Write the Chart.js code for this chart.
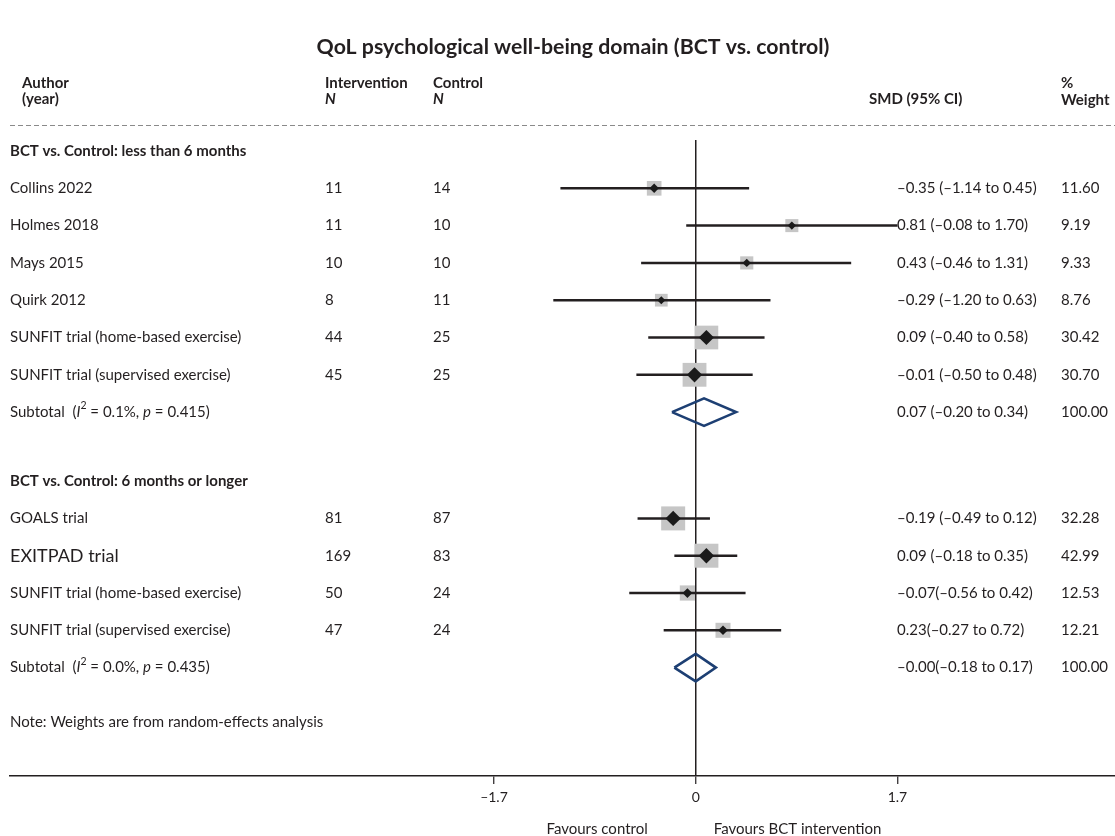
<!DOCTYPE html>
<html>
<head>
<meta charset="utf-8">
<script src="https://cdn.jsdelivr.net/npm/chart.js@4.4.1/dist/chart.umd.min.js"></script>
<style>
  html, body { margin: 0; padding: 0; background: #fff; overflow: hidden; }
  #wrap { width: 1115px; height: 836px; position: relative; }
  #forest { display: block; }
</style>
</head>
<body>
<div id="wrap"><canvas id="forest"></canvas></div>
<script>
// ---- study data ----
const sectionTitles = ['BCT vs. Control: less than 6 months', 'BCT vs. Control: 6 months or longer'];
const studyGroup = [0, 0, 0, 0, 0, 0, 1, 1, 1, 1];
const studyNames = ['Collins 2022', 'Holmes 2018', 'Mays 2015', 'Quirk 2012',
  'SUNFIT trial (home-based exercise)', 'SUNFIT trial (supervised exercise)',
  'GOALS trial', 'EXITPAD trial',
  'SUNFIT trial (home-based exercise)', 'SUNFIT trial (supervised exercise)'];
const nIntervention = [11, 11, 10, 8, 44, 45, 81, 169, 50, 47];
const nControl = [14, 10, 10, 11, 25, 25, 87, 83, 24, 24];
const smd = [-0.35, 0.81, 0.43, -0.29, 0.09, -0.01, -0.19, 0.09, -0.07, 0.23];
const ciLow = [-1.14, -0.08, -0.46, -1.20, -0.40, -0.50, -0.49, -0.18, -0.56, -0.27];
const ciHigh = [0.45, 1.70, 1.31, 0.63, 0.58, 0.48, 0.12, 0.35, 0.42, 0.72];
const weights = [11.60, 9.19, 9.33, 8.76, 30.42, 30.70, 32.28, 42.99, 12.53, 12.21];
const smdLabels = ['\u20130.35 (\u20131.14 to 0.45)', '0.81 (\u20130.08 to 1.70)', '0.43 (\u20130.46 to 1.31)',
  '\u20130.29 (\u20131.20 to 0.63)', '0.09 (\u20130.40 to 0.58)', '\u20130.01 (\u20130.50 to 0.48)',
  '\u20130.19 (\u20130.49 to 0.12)', '0.09 (\u20130.18 to 0.35)', '\u20130.07(\u20130.56 to 0.42)',
  '0.23(\u20130.27 to 0.72)'];
const weightLabels = ['11.60', '9.19', '9.33', '8.76', '30.42', '30.70', '32.28', '42.99', '12.53', '12.21'];

// ---- pooled (subtotal) data ----
const subSmd = [0.07, -0.00];
const subLow = [-0.20, -0.18];
const subHigh = [0.34, 0.17];
const subI2 = ['0.1%', '0.0%'];
const subP = ['0.415', '0.435'];
const subLabels = ['0.07 (\u20130.20 to 0.34)', '\u20130.00(\u20130.18 to 0.17)'];
const subWeightLabels = ['100.00', '100.00'];

const xTicks = [-1.7, 0, 1.7];

// ---- row positions (one unit per row, extra gap between sections) ----
const sectionRow = [];
const studyRow = [];
const subRow = [];
let pos = 0;
sectionTitles.forEach((t, g) => {
  sectionRow.push(pos); pos += 1;
  studyGroup.forEach((sg, i) => { if (sg === g) { studyRow[i] = pos; pos += 1; } });
  subRow.push(pos); pos += 1.85;
});
const noteRow = subRow[subRow.length - 1] + 1.45;

const FONT = 'Lato, "Open Sans", sans-serif';
const INK = '#231f20';

// marker sizing from study weight
const squareSide = w => Math.min(24, 4.3 * Math.sqrt(w));

const ciDatasets = smd.map((v, i) => ({
  type: 'scatter',
  data: [{ x: ciLow[i], y: studyRow[i] }, { x: ciHigh[i], y: studyRow[i] }],
  showLine: true, borderColor: INK, borderWidth: 2.5, pointRadius: 0, order: 2
}));

const diamondHalf = 0.37;
const subDatasets = subSmd.map((v, g) => ({
  type: 'scatter',
  data: [
    { x: subLow[g], y: subRow[g] }, { x: v, y: subRow[g] - diamondHalf },
    { x: subHigh[g], y: subRow[g] }, { x: v, y: subRow[g] + diamondHalf },
    { x: subLow[g], y: subRow[g] }
  ],
  showLine: true, borderColor: '#1d3f73', borderWidth: 2.6, pointRadius: 0,
  borderJoinStyle: 'miter', fill: false, order: 1
}));

const squares = {
  type: 'scatter',
  data: smd.map((v, i) => ({ x: v, y: studyRow[i] })),
  pointStyle: 'rect',
  pointRadius: weights.map(w => squareSide(w) / Math.SQRT2),
  backgroundColor: '#c6c6c6', borderWidth: 0, order: 3
};
const dots = {
  type: 'scatter',
  data: smd.map((v, i) => ({ x: v, y: studyRow[i] })),
  pointStyle: 'rectRot',
  pointRadius: weights.map(w => squareSide(w) * 0.32),
  backgroundColor: '#1a1a1a', borderWidth: 0, order: 1
};

function drawSubtotalText(ctx, x, y, i2, p) {
  const parts = [
    ['Subtotal  (', 'normal', 15, 0],
    ['I', 'italic', 15, 0],
    ['2', 'normal', 10.5, -6],
    [' = ' + i2 + ', ', 'normal', 15, 0],
    ['p', 'italic', 15, 0],
    [' = ' + p + ')', 'normal', 15, 0]
  ];
  let cx = x;
  parts.forEach(([t, st, sz, dy]) => {
    ctx.font = st + ' ' + sz + 'px ' + FONT;
    ctx.fillText(t, cx, y + dy);
    cx += ctx.measureText(t).width;
  });
}

const tablePlugin = {
  id: 'forestTable',
  afterDraw(chart) {
    const ctx = chart.ctx;
    const ys = chart.scales.y;
    const xs = chart.scales.x;
    const yOf = r => ys.getPixelForValue(r);
    ctx.save();
    ctx.fillStyle = INK;
    ctx.textBaseline = 'middle';

    // title
    ctx.textAlign = 'center';
    ctx.font = 'bold 21.3px ' + FONT;
    ctx.fillText('QoL psychological well-being domain (BCT vs. control)', 573, 47);

    // column headers
    ctx.textAlign = 'left';
    ctx.font = 'bold 15px ' + FONT;
    ctx.fillText('Author', 22, 83);
    ctx.fillText('(year)', 22, 99);
    ctx.fillText('Intervention', 325, 83);
    ctx.fillText('Control', 433, 83);
    ctx.fillText('SMD (95% CI)', 869, 99);
    ctx.fillText('%', 1061, 83);
    ctx.fillText('Weight', 1061, 100);
    ctx.font = 'italic bold 15px ' + FONT;
    ctx.fillText('N', 325, 99);
    ctx.fillText('N', 433, 99);

    // dashed separator
    ctx.strokeStyle = '#8a8a8a';
    ctx.lineWidth = 1;
    ctx.setLineDash([5, 3]);
    ctx.beginPath();
    ctx.moveTo(10, 125.5);
    ctx.lineTo(1115, 125.5);
    ctx.stroke();
    ctx.setLineDash([]);

    // section headings
    ctx.font = 'bold 15px ' + FONT;
    sectionTitles.forEach((t, g) => ctx.fillText(t, 10, yOf(sectionRow[g])));

    // study rows
    studyNames.forEach((name, i) => {
      const y = yOf(studyRow[i]);
      ctx.font = (name.startsWith('EXITPAD') ? '18px ' : '15px ') + FONT;
      ctx.fillText(name, 10, y);
      ctx.font = '15px ' + FONT;
      ctx.fillText(String(nIntervention[i]), 325, y);
      ctx.fillText(String(nControl[i]), 433, y);
      ctx.fillText(smdLabels[i], 897, y);
      ctx.fillText(weightLabels[i], 1061, y);
    });

    // subtotal rows
    subSmd.forEach((v, g) => {
      const y = yOf(subRow[g]);
      drawSubtotalText(ctx, 10, y, subI2[g], subP[g]);
      ctx.font = '15px ' + FONT;
      ctx.fillText(subLabels[g], 897, y);
      ctx.fillText(subWeightLabels[g], 1061, y);
    });

    // footnote
    ctx.font = '15px ' + FONT;
    ctx.fillText('Note: Weights are from random-effects analysis', 10, yOf(noteRow));

    // direction labels under the axis
    const x0 = xs.getPixelForValue(0);
    ctx.font = '15px ' + FONT;
    ctx.textAlign = 'right';
    ctx.fillText('Favours control', x0 - 48, 829);
    ctx.textAlign = 'left';
    ctx.fillText('Favours BCT intervention', x0 + 18, 829);
    ctx.restore();
  }
};

new Chart(document.getElementById('forest'), {
  type: 'scatter',
  data: { datasets: [...ciDatasets, ...subDatasets, squares, dots] },
  options: {
    responsive: true,
    maintainAspectRatio: false,
    animation: false,
    events: [],
    layout: { autoPadding: false, padding: { top: 140, left: 10, right: 0, bottom: 20 } },
    plugins: { legend: { display: false }, tooltip: { enabled: false }, title: { display: false } },
    scales: {
      x: {
        type: 'linear',
        min: -5.778,
        max: 3.533,
        afterBuildTicks: scale => { scale.ticks = xTicks.map(v => ({ value: v })); },
        afterFit: scale => {
          scale.height = 40;
          scale.paddingLeft = 0;
          scale.paddingRight = 0;
        },
        border: { display: true, color: INK, width: 1.5 },
        grid: {
          drawOnChartArea: true,
          drawTicks: true,
          tickLength: 8,
          color: c => (c.tick && c.tick.value === 0 ? INK : 'rgba(0,0,0,0)'),
          lineWidth: 1.5,
          tickColor: INK,
          tickWidth: 1.2
        },
        ticks: {
          color: INK,
          padding: 5,
          font: { family: FONT, size: 14 },
          callback: v => (v < 0 ? '\u2013' + Math.abs(v) : String(v))
        }
      },
      y: {
        type: 'linear',
        display: false,
        reverse: true,
        min: -0.295,
        max: 16.756
      }
    }
  },
  plugins: [tablePlugin]
});
</script>
</body>
</html>
